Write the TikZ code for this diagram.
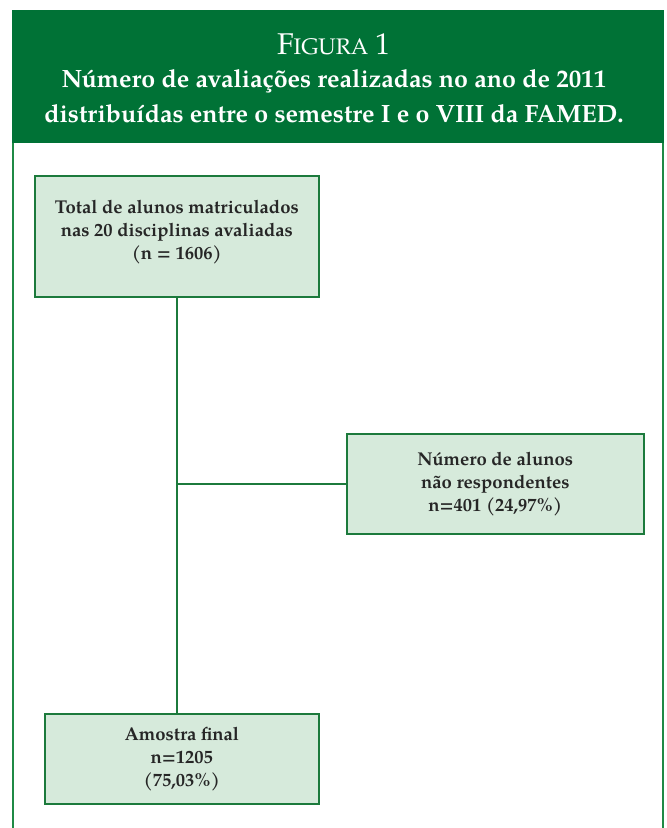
\documentclass[tikz,border=0pt]{standalone}
\usepackage{fontspec}
\setmainfont{TeX Gyre Pagella}
\definecolor{hdr}{HTML}{007236}
\definecolor{frm}{HTML}{1F8A45}
\definecolor{bfill}{HTML}{D6EADB}
\definecolor{bdraw}{HTML}{1C7A3C}
\definecolor{txt}{HTML}{262626}
\begin{document}
\begin{tikzpicture}[x=1pt,y=-1pt,
  boxst/.style={draw=bdraw,line width=1.6pt,fill=bfill,inner sep=0pt,align=center,
    text=txt,font=\fontsize{18.5}{23}\selectfont\bfseries},
  link/.style={draw=bdraw,line width=1.4pt}]
\useasboundingbox (0,0) rectangle (667,828);
\fill[white] (0,0) rectangle (667,828);
\node[fill=hdr,minimum width=652pt,minimum height=133pt,inner sep=0pt,anchor=north west] (hdr) at (12,10) {};
\node[text=white,font=\fontsize{30}{34}\selectfont,anchor=center] (fig) at (334,44) {F{\fontsize{22.5}{26}\selectfont IGURA} 1};
\node[text=white,font=\fontsize{25}{35}\selectfont\bfseries,align=center,anchor=center] (title) at (334,96)
  {Número de avaliações realizadas no ano de 2011\\distribuídas entre o semestre I e o VIII da FAMED.};
\coordinate (fl1) at (13,143);
\coordinate (fl2) at (13,828);
\coordinate (fr1) at (663,143);
\coordinate (fr2) at (663,828);
\draw[frm,line width=1.6pt] (fl1) -- (fl2);
\draw[frm,line width=1.6pt] (fr1) -- (fr2);
\node[boxst,minimum width=284pt,minimum height=121pt,text depth=13pt,anchor=north west] (b1) at (34,175)
  {Total de alunos matriculados\\nas 20 disciplinas avaliadas\\(n = 1606)};
\node[boxst,minimum width=297pt,minimum height=100pt,anchor=north west] (b2) at (346,433)
  {Número de alunos\\não respondentes\\n=401 (24,97\%)};
\node[boxst,minimum width=274pt,minimum height=90pt,anchor=north west] (b3) at (44,713)
  {Amostra final\\n=1205\\(75,03\%)};
\coordinate (bend) at (b1.south |- b3.north);
\coordinate (j) at (b1.south |- b2.west);
\draw[link] (b1.south) -- (bend);
\draw[link] (j) -- (b2.west);
\end{tikzpicture}
\end{document}
